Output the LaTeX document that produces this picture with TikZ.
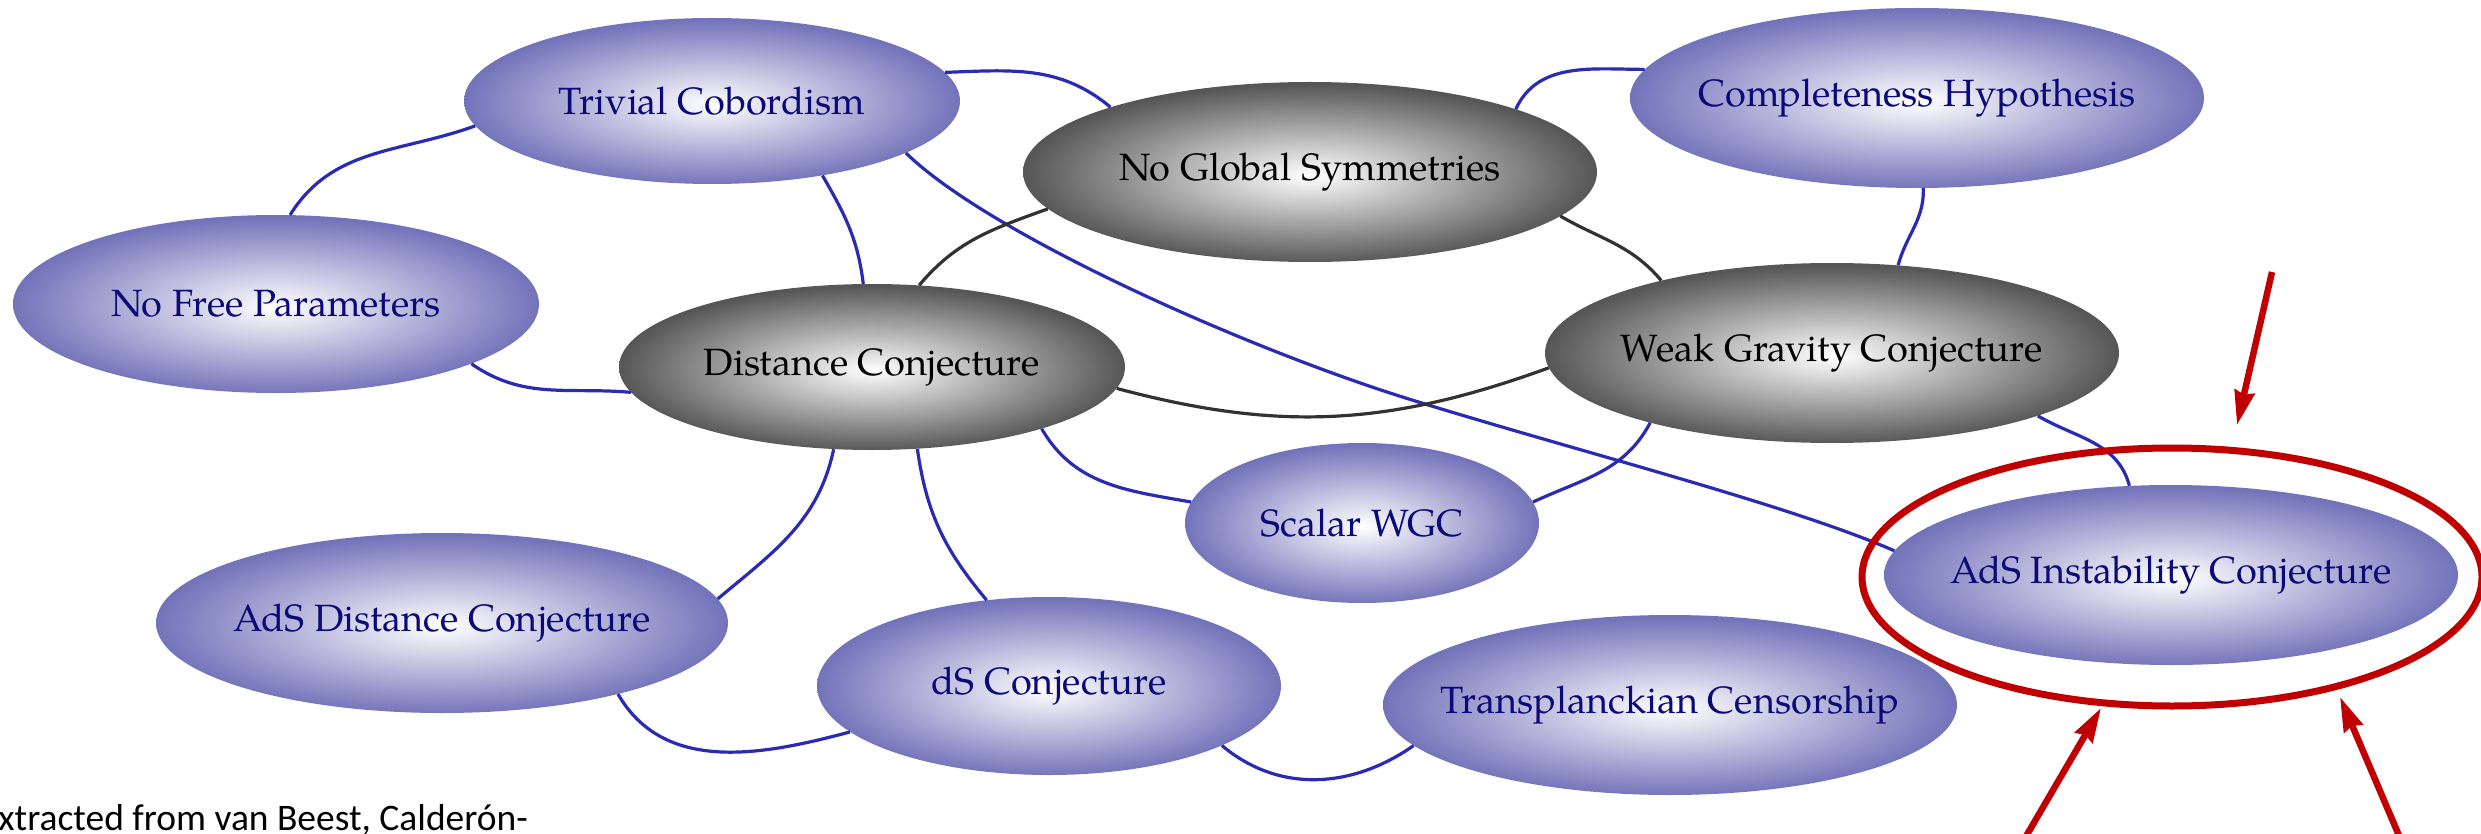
\documentclass[tikz,border=0pt]{standalone}
\usepackage{fontspec}
\setmainfont{texgyrepagella-regular.otf}
\newfontfamily\capfont{Carlito}
\usetikzlibrary{shapes.geometric,arrows.meta}
\definecolor{nb}{RGB}{115,115,186}
\definecolor{ng}{RGB}{86,86,86}
\definecolor{navytext}{RGB}{10,10,120}
\definecolor{edgeblue}{RGB}{42,42,178}
\definecolor{edgegray}{RGB}{50,50,50}
\definecolor{hlred}{RGB}{192,0,0}
\pgfdeclareradialshading{blueball}{\pgfpoint{0bp}{-1bp}}{color(0bp)=(white); color(25bp)=(nb); color(50bp)=(nb)}
\pgfdeclareradialshading{grayball}{\pgfpoint{0bp}{-1bp}}{color(0bp)=(white); color(25bp)=(ng); color(50bp)=(ng)}
\tikzset{
  btext/.style={text=navytext, font=\fontsize{38}{44}\selectfont, inner sep=0pt},
  ktext/.style={text=black, font=\fontsize{38}{44}\selectfont, inner sep=0pt},
  bnode/.style={ellipse, inner sep=0pt, shade, shading=blueball, label={[btext]center:#1}},
  gnode/.style={ellipse, inner sep=0pt, shade, shading=grayball, label={[ktext]center:#1}},
  bedge/.style={draw=edgeblue, line width=3.2pt},
  kedge/.style={draw=edgegray, line width=3.2pt},
  redarrow/.style={draw=hlred, line width=6.5pt, -{Stealth[length=34pt,width=20pt,inset=3pt]}},
}
\begin{document}
\begin{tikzpicture}[x=1pt,y=1pt]
\useasboundingbox (0,0) rectangle (2481,-834);
\clip (0,0) rectangle (2481,-834);
% nodes
\node[bnode=Trivial Cobordism, minimum width=496pt, minimum height=166pt] (tc) at (712,-101) {};
\node[gnode=No Global Symmetries, minimum width=574pt, minimum height=180pt] (ngs) at (1310,-172) {};
\node[bnode=Completeness Hypothesis, minimum width=574pt, minimum height=180pt] (ch) at (1917,-98) {};
\node[bnode=No Free Parameters, minimum width=526pt, minimum height=178pt] (nfp) at (276,-304) {};
\node[gnode=Distance Conjecture, minimum width=506pt, minimum height=166pt] (dc) at (872,-367) {};
\node[gnode=Weak Gravity Conjecture, minimum width=574pt, minimum height=180pt] (wgc) at (1832,-353) {};
\node[bnode=Scalar WGC, minimum width=354pt, minimum height=160pt] (swgc) at (1362,-523) {};
\node[bnode=AdS Instability Conjecture, minimum width=574pt, minimum height=180pt] (ai) at (2171,-575) {};
\node[bnode=AdS Distance Conjecture, minimum width=572pt, minimum height=180pt] (adc) at (442,-623) {};
\node[bnode=dS Conjecture, minimum width=464pt, minimum height=178pt] (ds) at (1049,-686) {};
\node[bnode=Transplanckian Censorship, minimum width=574pt, minimum height=180pt] (tp) at (1670,-705) {};
% blue connectors
\draw[bedge] (nfp.81) to[out=58, in=200] (tc.186);
\draw[bedge] (tc.7) to[out=2, in=140] (ngs.162);
\draw[bedge] (tc.-34) to[out=-60, in=97] (dc.96);
\coordinate (dmid) at (1412,-400);
\draw[bedge] (tc.-15.5) .. controls (990,-235) and (1250,-350) .. (dmid)
                        .. controls (1580,-452) and (1790,-505) .. (ai.175.5);
\draw[bedge] (nfp.-17) to[out=-35, in=175] (dc.186);
\draw[bedge] (ch.174) to[out=180, in=65] (ngs.17);
\draw[bedge] (ch.-86) to[out=-88, in=75] (wgc.53);
\draw[bedge] (wgc.-17) to[out=-30, in=105] (ai.115);
\draw[bedge] (wgc.201) to[out=-118, in=25] (swgc.7);
\draw[bedge] (dc.-20) to[out=-60, in=170] (swgc.173);
\draw[bedge] (dc.-115) to[out=-102, in=40] (adc.5);
\draw[bedge] (dc.-61) to[out=-82, in=130] (ds.126);
\draw[bedge] (adc.-22) to[out=-60, in=195] (ds.193);
\draw[bedge] (ds.-19.5) to[out=-40, in=215] (tp.189);
% gray connectors
\draw[kedge] (dc.60) to[out=50, in=200] (ngs.188);
\draw[kedge] (ngs.-10) to[out=-30, in=130] (wgc.157);
\draw[kedge] (dc.-5) to[out=-15, in=200] (wgc.183.5);
% highlight
\node[draw=hlred, line width=7pt, ellipse, minimum width=620pt, minimum height=258pt, inner sep=0pt] (hl) at (2172,-577) {};
\coordinate (r1s) at (2272,-272);
\coordinate (r1e) at (2237,-425);
\coordinate (r2s) at (2018,-850);
\coordinate (r2e) at (2101,-708);
\coordinate (r3s) at (2403,-845);
\coordinate (r3e) at (2340,-697);
\draw[redarrow] (r1s) -- (r1e);
\draw[redarrow] (r2s) -- (r2e);
\draw[redarrow] (r3s) -- (r3e);
% source text
\node[anchor=base east, inner sep=0pt, font=\capfont\fontsize{37.5}{44}\selectfont] (src) at (528,-830) {Extracted from van Beest, Calderón-};
\end{tikzpicture}
\end{document}
